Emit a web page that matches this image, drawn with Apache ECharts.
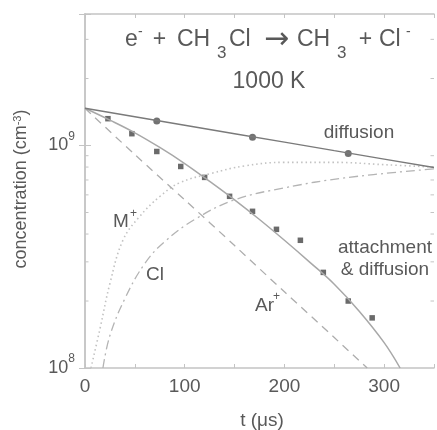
<!DOCTYPE html>
<html><head><meta charset="utf-8">
<script src="https://cdn.jsdelivr.net/npm/echarts@6/dist/echarts.min.js"></script>
<style>html,body{margin:0;padding:0;background:#fff}#c{width:437px;height:430px}</style>
</head><body><div id="c"></div>
<script>
// ---- data ----
const xMin = 0, xMax = 350;
const yMin = 1e8, yMax = 3.9e9;
const xTickLabels = [0, 100, 200, 300];
const yTickLabels = [1e8, 1e9];
const yMinorTicks = [2e8, 3e8, 4e8, 5e8, 6e8, 7e8, 8e8, 9e8, 2e9, 3e9];

const diffLineT = [0, 50, 100, 150, 200, 250, 300, 350];
const diffLineV = [1.47e9, 1.347e9, 1.234e9, 1.13e9, 1.035e9, 9.48e8, 8.69e8, 7.96e8];
const diffPtsT = [72, 168, 264];
const diffPtsV = [1.29e9, 1.09e9, 9.2e8];

const attLineT = [0, 25, 50, 75, 100, 125, 150, 175, 200, 225, 250, 275, 300, 316];
const attLineV = [1.47e9, 1.30e9, 1.14e9, 9.8e8, 8.3e8, 6.9e8, 5.7e8, 4.65e8, 3.75e8, 3.0e8, 2.38e8, 1.8e8, 1.3e8, 1.0e8];
const attPtsT = [23, 47, 72, 96, 120, 145, 168, 192, 216, 239, 264, 288];
const attPtsV = [1.32e9, 1.13e9, 9.4e8, 8.05e8, 7.19e8, 5.91e8, 5.06e8, 4.2e8, 3.75e8, 2.69e8, 2.0e8, 1.68e8];

const arT = [0, 50, 100, 150, 200, 250, 283];
const arV = [1.47e9, 9.1e8, 5.7e8, 3.55e8, 2.2e8, 1.37e8, 1.0e8];

const clT = [18, 25, 40, 60, 80, 110, 150, 200, 260, 350];
const clV = [1.0e8, 1.4e8, 2.05e8, 2.95e8, 3.7e8, 4.65e8, 5.7e8, 6.45e8, 7.15e8, 7.85e8];

const mT = [6, 15, 25, 38, 54, 75, 95, 127, 160, 200, 250, 300, 350];
const mV = [1.0e8, 1.5e8, 2.4e8, 3.75e8, 4.75e8, 5.9e8, 6.8e8, 7.5e8, 8.1e8, 8.4e8, 8.4e8, 8.2e8, 8.0e8];

// ---- chart ----
const FONT = '"Liberation Sans", Arial, Helvetica, sans-serif';
const TXT = '#595959';
const FRAME = '#c4c4c4';
const zip = (a, b) => a.map((t, i) => [t, b[i]]);
const isPow10 = v => Math.abs(Math.log10(v) - Math.round(Math.log10(v))) < 1e-6;

const chart = echarts.init(document.getElementById('c'), null, {renderer: 'canvas'});

const axisLine = {show: true, lineStyle: {color: FRAME, width: 1.5}};
const tickStyle = {color: FRAME, width: 1};

function txt(x, y, s, size, align, extra, font) {
  return Object.assign({
    type: 'text', x: x, y: y, silent: true,
    style: {text: s, fontSize: size, fontFamily: font || FONT, fill: TXT,
            align: align || 'center', verticalAlign: 'middle'}
  }, extra || {});
}

const option = {
  animation: false,
  backgroundColor: '#fff',
  grid: {left: 85, right: 2, top: 14, bottom: 62, show: false},
  xAxis: [
    {type: 'value', min: xMin, max: xMax, interval: 50, position: 'bottom',
     axisLine: axisLine, axisTick: {inside: true, length: 4, lineStyle: tickStyle},
     splitLine: {show: false},
     axisLabel: {margin: 9, fontSize: 19, fontFamily: FONT, color: TXT,
       formatter: v => xTickLabels.indexOf(v) >= 0 ? String(v) : ''}},
    {type: 'value', min: xMin, max: xMax, interval: 50, position: 'top',
     axisLine: axisLine, axisTick: {inside: true, length: 4, lineStyle: tickStyle},
     splitLine: {show: false}, axisLabel: {show: false}}
  ],
  yAxis: [
    {type: 'log', logBase: 10, min: yMin, max: yMax, position: 'left',
     axisLine: axisLine, axisTick: {inside: true, length: 6, lineStyle: tickStyle},
     splitLine: {show: false},
     axisLabel: {margin: 10, fontFamily: FONT, color: TXT,
       formatter: v => (isPow10(v) && yTickLabels.some(t => Math.abs(t - v) / t < 1e-6))
         ? '{b|10}{s|' + Math.round(Math.log10(v)) + '}' : '',
       rich: {b: {fontSize: 18, lineHeight: 30, fontFamily: FONT, color: TXT},
              s: {fontSize: 12, lineHeight: 12, verticalAlign: 'top', fontFamily: FONT, color: TXT}}}},
    {type: 'log', logBase: 10, min: yMin, max: yMax, position: 'right',
     axisLine: axisLine, axisTick: {inside: true, length: 6, lineStyle: tickStyle},
     splitLine: {show: false}, axisLabel: {show: false}}
  ],
  series: [
    {type: 'custom', xAxisIndex: 0, yAxisIndex: 0, silent: true, clip: false, z: 1,
     data: yMinorTicks.map(v => [xMin, v]),
     renderItem: (params, api) => {
       const v = api.value(1);
       const pL = api.coord([xMin, v]);
       const pR = api.coord([xMax, v]);
       return {type: 'group', children: [
         {type: 'line', shape: {x1: pL[0], y1: pL[1], x2: pL[0] + 3.5, y2: pL[1]}, style: {stroke: FRAME, lineWidth: 1}},
         {type: 'line', shape: {x1: pR[0] - 3.5, y1: pR[1], x2: pR[0], y2: pR[1]}, style: {stroke: FRAME, lineWidth: 1}}
       ]};
     }},
    {name: 'M+', type: 'line', data: zip(mT, mV), smooth: 0.4, showSymbol: false,
     lineStyle: {color: '#c2c2c2', width: 1.6, type: [1.5, 3]}},
    {name: 'Cl', type: 'line', data: zip(clT, clV), smooth: 0.4, showSymbol: false,
     lineStyle: {color: '#b4b4b4', width: 1.3, type: [9, 4, 2, 4]}},
    {name: 'Ar+', type: 'line', data: zip(arT, arV), smooth: 0.3, showSymbol: false,
     lineStyle: {color: '#adadad', width: 1.3, type: [8, 6]}},
    {name: 'attachment fit', type: 'line', data: zip(attLineT, attLineV), smooth: 0.4, showSymbol: false,
     lineStyle: {color: '#a8a8a8', width: 1.5}},
    {name: 'diffusion fit', type: 'line', data: zip(diffLineT, diffLineV), showSymbol: false,
     lineStyle: {color: '#7a7a7a', width: 1.4}},
    {name: 'attachment', type: 'scatter', data: zip(attPtsT, attPtsV), symbol: 'rect', symbolSize: 5.5,
     itemStyle: {color: '#454545'}},
    {name: 'diffusion', type: 'scatter', data: zip(diffPtsT, diffPtsV), symbol: 'circle', symbolSize: 7,
     itemStyle: {color: '#4f4f4f'}}
  ],
  graphic: [
    // title line 1
    txt(125, 40, 'e', 23, 'left'),
    txt(138, 32, '-', 14, 'left'),
    txt(159.5, 40, '+', 23, 'center'),
    txt(177, 40, 'CH', 23, 'left'),
    txt(217, 53, '3', 17, 'left'),
    txt(229, 40, 'Cl', 23, 'left'),
    txt(276.5, 40, '\u2192', 30, 'center', null, '"DejaVu Sans", sans-serif'),
    txt(297, 40, 'CH', 23, 'left'),
    txt(337, 53, '3', 17, 'left'),
    txt(365.5, 40, '+', 23, 'center'),
    txt(379, 40, 'Cl', 23, 'left'),
    txt(406, 32, '-', 14, 'left'),
    // title line 2
    txt(269, 82, '1000 K', 23, 'center'),
    // annotations
    txt(359, 133, 'diffusion', 19),
    txt(385, 248, 'attachment', 19),
    txt(385, 270, '& diffusion', 19),
    txt(113, 222, 'M', 19, 'left'),
    txt(130, 214, '+', 12, 'left'),
    txt(155, 275, 'Cl', 19),
    txt(255, 306, 'Ar', 19, 'left'),
    txt(273, 297, '+', 12, 'left'),
    // axis titles
    txt(262, 421, 't (\u03bcs)', 19),
    {type: 'text', x: 21, y: 189, rotation: Math.PI / 2, silent: true,
     style: {text: 'concentration (cm{s|-3})', fontSize: 18, fontFamily: FONT, fill: TXT,
             align: 'center', verticalAlign: 'middle',
             rich: {s: {fontSize: 11, lineHeight: 11, verticalAlign: 'top', fontFamily: FONT, fill: TXT}}}}
  ]
};
chart.setOption(option);
</script>
</body></html>
